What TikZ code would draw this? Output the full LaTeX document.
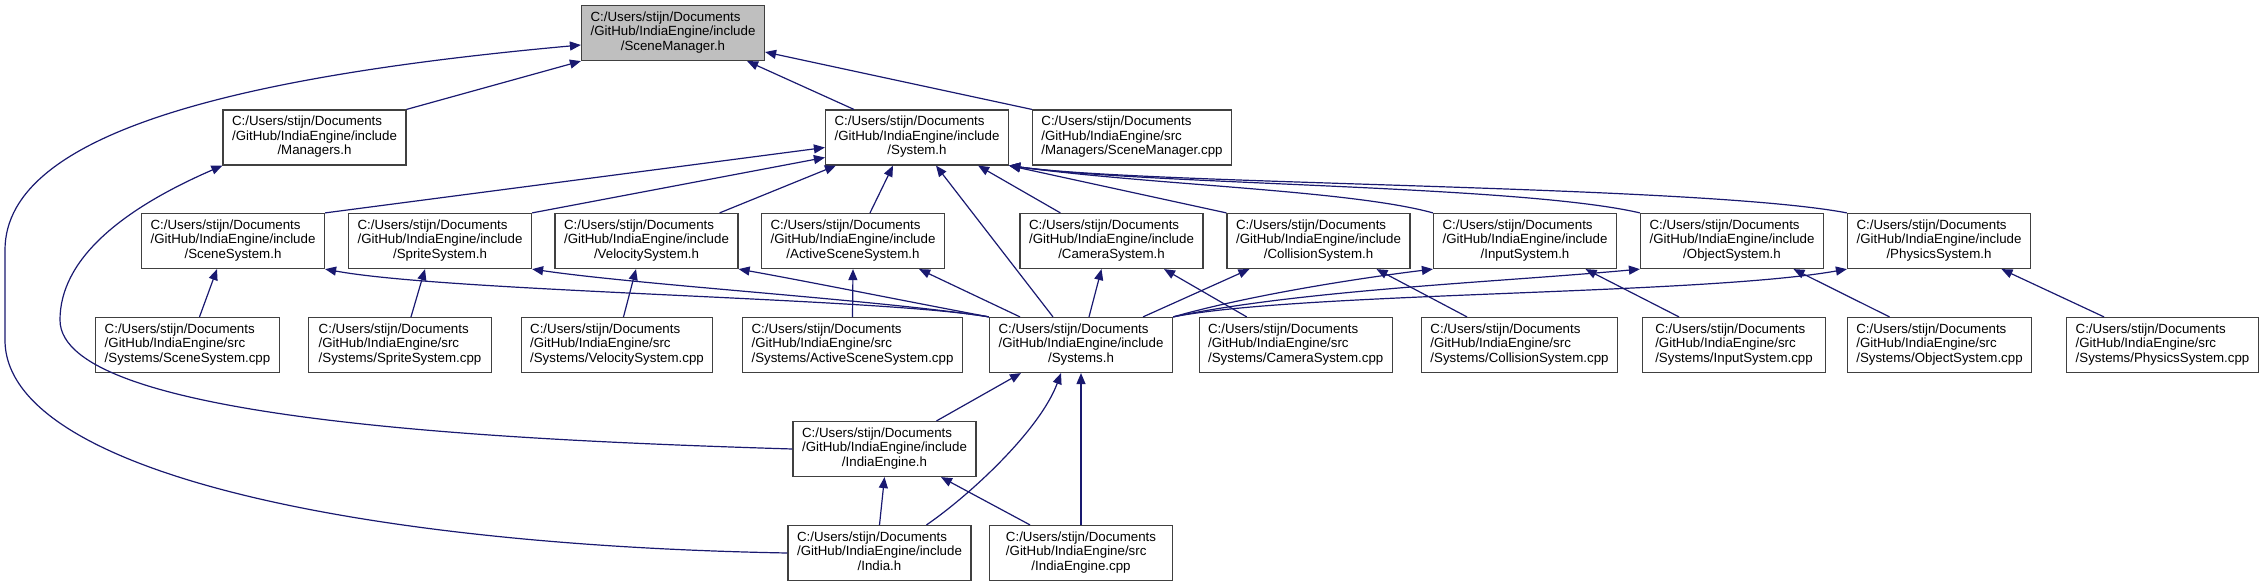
\documentclass[tikz,border=0pt]{standalone}
\usepackage{fontspec}
\setmainfont{Liberation Sans}
\usetikzlibrary{arrows.meta}
\definecolor{edgeblue}{HTML}{191970}
\definecolor{rootgray}{HTML}{BFBFBF}
\newcommand{\fpath}[3]{\begin{tabular}{@{}l@{}}#1\\#2\\\multicolumn{1}{@{}c@{}}{#3}\end{tabular}}
\newcommand{\incfile}[1]{\fpath{C:/Users/stijn/Documents}{/GitHub/IndiaEngine/include}{/#1}}
\newcommand{\srcfile}[1]{\fpath{C:/Users/stijn/Documents}{/GitHub/IndiaEngine/src}{/#1}}

\begin{document}
\begin{tikzpicture}[
  x=1pt, y=-1pt, >={Triangle[length=11pt,width=9pt]},
  file/.style={draw=black!75,line width=1.2pt,fill=white,inner xsep=9pt,inner ysep=0pt,
    minimum width=183pt,minimum height=55pt,font=\fontsize{13.3}{14.5}\selectfont},
  root/.style={file,fill=rootgray},
  dep/.style={->,draw=edgeblue,line width=1.2pt}]
\useasboundingbox (0,0) rectangle (2267,587);
% rows of the include graph
\node[root] (sm) at (673,33) {\incfile{SceneManager.h}};
\node[file] (managers) at (314.5,137.5) {\incfile{Managers.h}};
\node[file] (system) at (917,137.5) {\incfile{System.h}};
\node[file] (smcpp) at (1132,137.5) {\srcfile{Managers/SceneManager.cpp}};
\node[file] (scenesys) at (233,241) {\incfile{SceneSystem.h}};
\node[file] (spritesys) at (440,241) {\incfile{SpriteSystem.h}};
\node[file] (velsys) at (646.5,241) {\incfile{VelocitySystem.h}};
\node[file] (activesys) at (853,241) {\incfile{ActiveSceneSystem.h}};
\node[file] (camsys) at (1111.5,241) {\incfile{CameraSystem.h}};
\node[file] (colsys) at (1318.5,241) {\incfile{CollisionSystem.h}};
\node[file] (inputsys) at (1525,241) {\incfile{InputSystem.h}};
\node[file] (objsys) at (1732,241) {\incfile{ObjectSystem.h}};
\node[file] (physsys) at (1939,241) {\incfile{PhysicsSystem.h}};
\node[file] (scenecpp) at (187.5,345) {\srcfile{Systems/SceneSystem.cpp}};
\node[file] (spritecpp) at (400,345) {\srcfile{Systems/SpriteSystem.cpp}};
\node[file] (velcpp) at (617,345) {\srcfile{Systems/VelocitySystem.cpp}};
\node[file] (activecpp) at (852.5,345) {\srcfile{Systems/ActiveSceneSystem.cpp}};
\node[file] (systems) at (1081,345) {\incfile{Systems.h}};
\node[file] (camcpp) at (1295.7,345) {\srcfile{Systems/CameraSystem.cpp}};
\node[file] (colcpp) at (1519.5,345) {\srcfile{Systems/CollisionSystem.cpp}};
\node[file] (inputcpp) at (1734,345) {\srcfile{Systems/InputSystem.cpp}};
\node[file] (objcpp) at (1939.5,345) {\srcfile{Systems/ObjectSystem.cpp}};
\node[file] (physcpp) at (2162.5,345) {\srcfile{Systems/PhysicsSystem.cpp}};
\node[file] (enginehdr) at (884.5,449) {\incfile{IndiaEngine.h}};
\node[file] (india) at (879.5,553) {\incfile{India.h}};
\node[file] (enginecpp) at (1081,553) {\srcfile{IndiaEngine.cpp}};
% includes of SceneManager.h
\draw[dep] (managers.north east) -- (sm.south west);
\draw[dep] ([xshift=29pt]system.north west) -- ([xshift=-18pt]sm.south east);
\draw[dep] (smcpp.north west) -- ([yshift=-19pt]sm.east);
\draw[dep] (india.west) .. controls (350,545) and (5,470) .. (5,340) -- (5,250)
  .. controls (5,130) and (250,75) .. ([yshift=-12pt]sm.west);
\draw[dep] (enginehdr.west) .. controls (500,440) and (60,420) .. (60,320)
  .. controls (60,260) and (120,210) .. (managers.south west);
% includes of System.h
\draw[dep] (scenesys.north east) -- ([yshift=-10pt]system.west);
\draw[dep] (spritesys.north east) -- ([yshift=-20pt]system.west);
\draw[dep] ([xshift=-19pt]velsys.north east) -- ([xshift=11pt]system.south west);
\draw[dep] ([xshift=17pt]activesys.north) -- ([xshift=-24pt]system.south);
\draw[dep] ([xshift=-28pt]systems.north) -- ([xshift=19pt]system.south);
\draw[dep] ([xshift=41pt]camsys.north west) -- ([xshift=-31pt]system.south east);
\draw[dep] (colsys.north west) -- (system.south east);
\draw[dep] (inputsys.north west) .. controls (1350,190) and (1150,185) .. (system.south east);
\draw[dep] (objsys.north west) .. controls (1520,185) and (1150,185) .. (system.south east);
\draw[dep] (physsys.north west) .. controls (1700,185) and (1150,185) .. (system.south east);
% Systems.h pulls in every system header
\draw[dep] (systems.north west) .. controls (880,298) and (450,292) .. (scenesys.south east);
\draw[dep] (systems.north west) .. controls (880,300) and (640,285) .. (spritesys.south east);
\draw[dep] (systems.north west) .. controls (900,300) and (800,280) .. (velsys.south east);
\draw[dep] ([xshift=-61pt]systems.north) -- ([xshift=-26pt]activesys.south east);
\draw[dep] ([xshift=8pt]systems.north) -- ([xshift=-10pt]camsys.south);
\draw[dep] ([xshift=62pt]systems.north) -- ([xshift=23pt]colsys.south west);
\draw[dep] (systems.north east) .. controls (1250,295) and (1360,278) .. (inputsys.south west);
\draw[dep] (systems.north east) .. controls (1300,290) and (1500,282) .. (objsys.south west);
\draw[dep] (systems.north east) .. controls (1300,292) and (1700,295) .. (physsys.south west);
% sources to their headers
\draw[dep] ([xshift=12pt]scenecpp.north) -- ([xshift=-16pt]scenesys.south);
\draw[dep] ([xshift=11pt]spritecpp.north) -- ([xshift=-15pt]spritesys.south);
\draw[dep] ([xshift=6.5pt]velcpp.north) -- ([xshift=-10.5pt]velsys.south);
\draw[dep] (activecpp.north) -- (activesys.south);
\draw[dep] ([xshift=-49pt]camcpp.north) -- ([xshift=52.5pt]camsys.south);
\draw[dep] ([xshift=-52.5pt]colcpp.north) -- ([xshift=58pt]colsys.south);
\draw[dep] ([xshift=-55pt]inputcpp.north) -- ([xshift=60.5pt]inputsys.south);
\draw[dep] ([xshift=-50pt]objcpp.north) -- ([xshift=61.5pt]objsys.south);
\draw[dep] ([xshift=-58.5pt]physcpp.north) -- ([xshift=62.5pt]physsys.south);
% bottom of the graph
\draw[dep] ([xshift=52pt]enginehdr.north) -- ([xshift=-60pt]systems.south);
\draw[dep] ([xshift=47pt]india.north) .. controls (970,495) and (1040,430) .. ([xshift=-20pt]systems.south);
\draw[dep] (enginecpp.north) -- (systems.south);
\draw[dep] (india.north) -- (enginehdr.south);
\draw[dep] ([xshift=-51pt]enginecpp.north) -- ([xshift=56.5pt]enginehdr.south);
\end{tikzpicture}
\end{document}
